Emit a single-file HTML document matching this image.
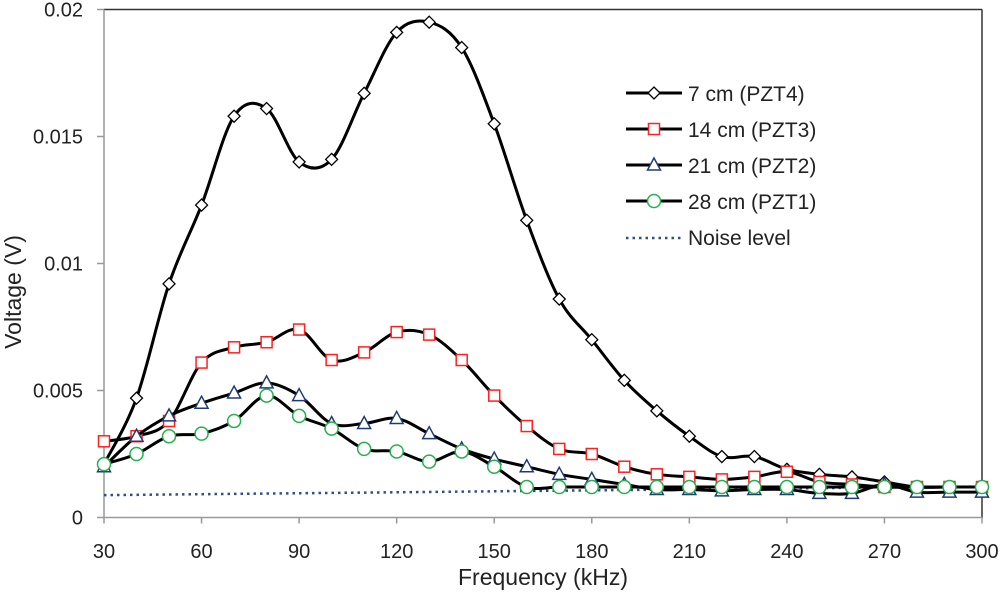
<!DOCTYPE html>
<html><head><meta charset="utf-8"><style>
body{margin:0;background:#fff}
svg{display:block;font-family:"Liberation Sans",Arial,sans-serif}
</style></head><body>
<svg id="chart" width="1000" height="592" viewBox="0 0 1000 592" xmlns="http://www.w3.org/2000/svg">
<g id="axes"></g><g id="series"></g><g id="legend"></g>
</svg>
<script>
const freqs=[30,40,50,60,70,80,90,100,110,120,130,140,150,160,170,180,190,200,210,220,230,240,250,260,270,280,290,300];
const pzt4=[0.0021,0.0047,0.0092,0.0123,0.0158,0.0161,0.0140,0.0141,0.0167,0.0191,0.0195,0.0185,0.0155,0.0117,0.0086,0.0070,0.0054,0.0042,0.0032,0.0024,0.0024,0.0019,0.0017,0.0016,0.0014,0.0012,0.0012,0.0012];
const pzt3=[0.0030,0.0032,0.0038,0.0061,0.0067,0.0069,0.0074,0.0062,0.0065,0.0073,0.0072,0.0062,0.0048,0.0036,0.0027,0.0025,0.0020,0.0017,0.0016,0.0015,0.0016,0.0018,0.0014,0.0013,0.0012,0.0012,0.0012,0.0012];
const pzt2=[0.0020,0.0032,0.0040,0.0045,0.0049,0.0053,0.0048,0.0037,0.0037,0.0039,0.0033,0.0027,0.0023,0.0020,0.0017,0.0015,0.0013,0.0011,0.0011,0.00105,0.0011,0.0011,0.00095,0.00095,0.0013,0.0010,0.0010,0.0010];
const pzt1=[0.0021,0.0025,0.0032,0.0033,0.0038,0.0048,0.0040,0.0035,0.0027,0.0026,0.0022,0.0026,0.0020,0.0012,0.0012,0.0012,0.0012,0.0012,0.0012,0.0012,0.0012,0.0012,0.0012,0.0012,0.0012,0.0012,0.0012,0.0012];
const noiseX=[30,300];
const noise=[0.00088,0.00122];
const xTicks=[30,60,90,120,150,180,210,240,270,300];
const yTicks=[0,0.005,0.01,0.015,0.02];
const yTickLabels=["0","0.005","0.01","0.015","0.02"];

const L=104,R=982,T=9.5,B=517.5;
const xs=v=>L+(v-30)/(300-30)*(R-L);
const ys=v=>B-v/0.02*(B-T);
const NS="http://www.w3.org/2000/svg";
function mk(tag,attrs,parent){const e=document.createElementNS(NS,tag);for(const k in attrs)e.setAttribute(k,attrs[k]);parent.appendChild(e);return e;}
const axes=document.getElementById('axes'),series=document.getElementById('series'),legend=document.getElementById('legend');

let e;
e=mk('line',{x1:L,y1:T,x2:R,y2:T,stroke:'#333','stroke-width':1.5},axes);

e=mk('line',{x1:R,y1:T,x2:R,y2:B,stroke:'#333','stroke-width':1.5},axes);

e=mk('line',{x1:L,y1:T,x2:L,y2:B,stroke:'#999','stroke-width':1.5},axes);

e=mk('line',{x1:L,y1:B,x2:R,y2:B,stroke:'#999','stroke-width':1.5},axes);

yTicks.forEach((t,i)=>{
  const y=ys(t);
  e=mk('line',{x1:L-7,y1:y,x2:L,y2:y,stroke:'#999','stroke-width':1.5},axes);
  
  e=mk('text',{x:L-21,y:y+7,'text-anchor':'end','font-size':20,fill:'#222'},axes);
  e.textContent=yTickLabels[i];
  
});
xTicks.forEach(t=>{
  const x=xs(t);
  e=mk('line',{x1:x,y1:B,x2:x,y2:B+6,stroke:'#999','stroke-width':1.5},axes);
  
  e=mk('text',{x:x,y:558,'text-anchor':'middle','font-size':20,fill:'#222'},axes);
  e.textContent=t;
  
});
e=mk('text',{x:543,y:585,'text-anchor':'middle','font-size':23,fill:'#222'},axes);
e.textContent='Frequency (kHz)';

e=mk('text',{x:0,y:0,'text-anchor':'middle','font-size':23,fill:'#222',transform:'translate(21,292) rotate(-90)'},axes);
e.textContent='Voltage (V)';


function smoothPath(pts){
  let d=`M${pts[0][0]},${pts[0][1]}`;
  for(let i=0;i<pts.length-1;i++){
    const p0=pts[i-1]||pts[i],p1=pts[i],p2=pts[i+1],p3=pts[i+2]||p2;
    const t=0.5/3;
    d+=` C${p1[0]+(p2[0]-p0[0])*t},${p1[1]+(p2[1]-p0[1])*t} ${p2[0]-(p3[0]-p1[0])*t},${p2[1]-(p3[1]-p1[1])*t} ${p2[0]},${p2[1]}`;
  }
  return d;
}
function marker(kind,x,y,parent,color){
  let m;
  if(kind==='diamond') m=mk('path',{d:`M${x},${y-6} L${x+6},${y} L${x},${y+6} L${x-6},${y} Z`,fill:'#fff',stroke:'#000','stroke-width':1.3},parent);
  else if(kind==='square') m=mk('rect',{x:x-5.5,y:y-5.5,width:11,height:11,fill:'#fff',stroke:color,'stroke-width':1.5},parent);
  else if(kind==='triangle') m=mk('path',{d:`M${x},${y-7} L${x+6.5},${y+5} L${x-6.5},${y+5} Z`,fill:'#fff',stroke:color,'stroke-width':1.5},parent);
  else m=mk('circle',{cx:x,cy:y,r:6.5,fill:'#fff',stroke:color,'stroke-width':1.5},parent);
  return m;
}
e=mk('line',{x1:xs(noiseX[0]),y1:ys(noise[0]),x2:xs(noiseX[1]),y2:ys(noise[1]),stroke:'#2f4f8a','stroke-width':2.5,'stroke-dasharray':'2.5,4'},series);


const defs=[
 {name:'pzt4',data:pzt4,kind:'diamond',color:'#000',label:'7 cm (PZT4)'},
 {name:'pzt3',data:pzt3,kind:'square',color:'#ff2020',label:'14 cm (PZT3)'},
 {name:'pzt2',data:pzt2,kind:'triangle',color:'#1f3a7a',label:'21 cm (PZT2)'},
 {name:'pzt1',data:pzt1,kind:'circle',color:'#22b14c',label:'28 cm (PZT1)'}
];
defs.forEach(s=>{
  const g=mk('g',{},series);
  
  
  const pts=freqs.map((f,i)=>[xs(f),ys(s.data[i])]);
  const p=mk('path',{d:smoothPath(pts),fill:'none',stroke:'#000','stroke-width':3},g);
  
  
  pts.forEach(pt=>{
    const m=marker(s.kind,pt[0],pt[1],g,s.color);
    
    
  });
});
const rowsY=[93,129,165,201,238];
defs.forEach((s,i)=>{
  const y=rowsY[i];
  const l=mk('line',{x1:626,y1:y,x2:682,y2:y,stroke:'#000','stroke-width':3},legend);
  
  
  const m=marker(s.kind,654,y,legend,s.color);
  
  
  const t=mk('text',{x:688,y:y+8,'font-size':21,fill:'#222'},legend);
  t.textContent=s.label;
  
  
});
e=mk('line',{x1:626,y1:238,x2:682,y2:238,stroke:'#2f4f8a','stroke-width':2.5,'stroke-dasharray':'2.5,4'},legend);

e=mk('text',{x:688,y:245,'font-size':21,fill:'#222'},legend);
e.textContent='Noise level';

</script>
</body></html>
